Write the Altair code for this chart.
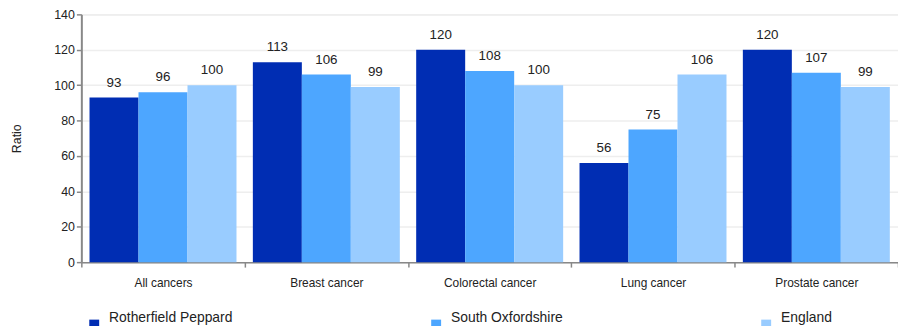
import altair as alt
import pandas as pd

categories = ["All cancers", "Breast cancer", "Colorectal cancer", "Lung cancer", "Prostate cancer"]
series = ["Rotherfield Peppard", "South Oxfordshire", "England"]
rotherfield = [93, 113, 120, 56, 120]
south_oxon = [96, 106, 108, 75, 107]
england = [100, 99, 100, 106, 99]
colors = ["#002DB3", "#4DA6FF", "#99CCFF"]
y_ticks = [0, 20, 40, 60, 80, 100, 120, 140]

rows = []
for vals, s in zip([rotherfield, south_oxon, england], series):
    for c, v in zip(categories, vals):
        rows.append({"category": c, "series": s, "value": v})
df = pd.DataFrame(rows)

FONT = "Arial, Liberation Sans"

x = alt.X("category:N", sort=categories, title=None,
          scale=alt.Scale(paddingInner=0, paddingOuter=0),
          axis=alt.Axis(labelAngle=0, tickBand="extent", labelFontSize=12, labelColor="#222",
                        labelFont=FONT, labelPadding=11, domainColor="#888",
                        domainWidth=1.5, tickColor="#888", tickSize=5, tickWidth=1.5, grid=False))
xo = alt.XOffset("series:N", sort=series, scale=alt.Scale(paddingInner=0, paddingOuter=0.167))
y = alt.Y("value:Q", scale=alt.Scale(domain=[0, 140], nice=False),
          axis=alt.Axis(values=y_ticks, tickCount=8, title="Ratio", titleFontSize=12.5, titleFontWeight="normal",
                        titleColor="#222", titleFont=FONT,
                        titleX=-58, titleY=125, titleAngle=-90, titleAlign="center",
                        labelFontSize=12.5, labelColor="#222", labelFont=FONT,
                        labelOverlap=False,
                        domainColor="#888", domainWidth=2, tickColor="#888", tickWidth=1.5, tickSize=5,
                        gridColor="#EEEEEE", gridWidth=1.5))
color = alt.Color("series:N", sort=series, scale=alt.Scale(domain=series, range=colors),
                  legend=alt.Legend(title=None, orient="none", legendX=6, legendY=306,
                                    direction="horizontal", columns=3, columnPadding=198,
                                    symbolType="square", symbolSize=100, symbolStrokeWidth=0,
                                    labelFontSize=14, labelColor="#222", labelFont=FONT,
                                    labelBaseline="bottom", labelOffset=8))

bars = alt.Chart(df).mark_bar(opacity=1).encode(x=x, xOffset=xo, y=y, color=color)
labels = alt.Chart(df).mark_text(dy=-8, fontSize=13.5, color="#222", font=FONT,
                                 baseline="bottom").encode(
    x=x, xOffset=xo, y=y, text="value:Q")

chart = alt.layer(bars, labels).properties(
    width=824, height=250,
    autosize=alt.AutoSizeParams(type="none"),
    padding={"left": 74, "top": 5, "right": 0, "bottom": 63},
).configure_view(stroke=None).configure(background="white")

chart.save("out.html", embed_options={"renderer": "svg", "actions": False})
